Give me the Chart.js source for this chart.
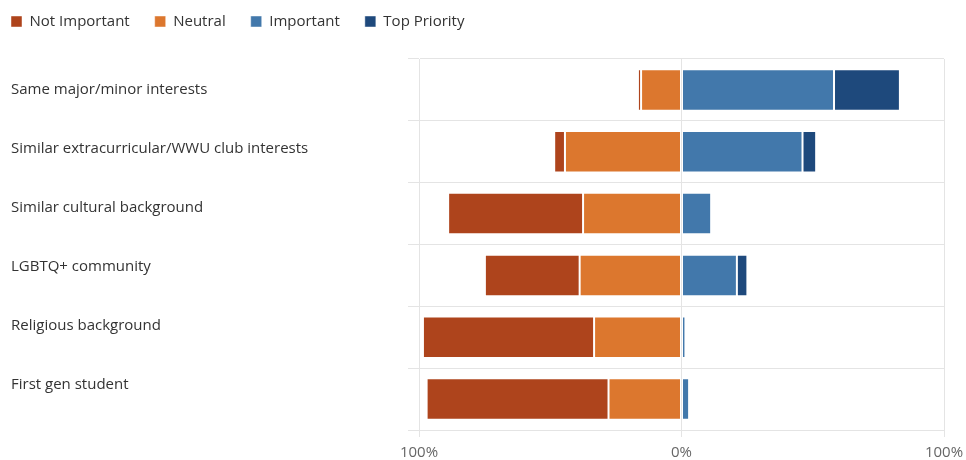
<!DOCTYPE html>
<html>
<head>
<meta charset="utf-8">
<script src="https://cdn.jsdelivr.net/npm/chart.js@4"></script>
<style>
  html, body { margin: 0; padding: 0; background: #fff; }
  #wrap { width: 966px; height: 460px; }
</style>
</head>
<body>
<div id="wrap"><canvas id="c" width="966" height="460"></canvas></div>
<script>
const categories = [
  "Same major/minor interests",
  "Similar extracurricular/WWU club interests",
  "Similar cultural background",
  "LGBTQ+ community",
  "Religious background",
  "First gen student"
];
const seriesNames = ["Not Important", "Neutral", "Important", "Top Priority"];
const notImportant = [1.2, 4.1, 51.4, 36.1, 65.2, 69.3];
const neutral      = [15.4, 44.4, 37.5, 38.8, 33.3, 27.8];
const important    = [58.1, 46.1, 11.3, 21.1, 1.5, 2.9];
const topPriority  = [25.1, 5.2, 0, 4.0, 0, 0];
const xTicks = [-100, 0, 100];

const colors = ["#AE441C", "#DC772E", "#4278AB", "#1E497C"];
const FONT = "'Open Sans', 'Noto Sans', sans-serif";
const LABEL_SPACING = 0.953; // category labels sit on a slightly tighter rhythm than the rows

const legendShift = {
  id: 'legendShift',
  afterLayout(chart) {
    if (chart.legend) {
      chart.legend.left -= 25;
      chart.legend.top -= 20;
    }
  }
};

function patchYLabels(s) {
  if (s._labelPatched) return;
  s._labelPatched = true;
  const orig = s._computeLabelItems.bind(s);
  s._computeLabelItems = (ca) => {
    const items = orig(ca);
    const n = s.ticks.length;
    const h = (s.bottom - s.top) / n;
    items.forEach((it, i) => {
      it.options.translation[1] = s.top + 1.5 + (i + 0.5) * h * LABEL_SPACING;
    });
    return items;
  };
}

new Chart(document.getElementById('c'), {
  type: 'bar',
  data: {
    labels: categories,
    datasets: [
      { label: seriesNames[0], data: notImportant.map(v => -v), backgroundColor: colors[0], order: 1 },
      { label: seriesNames[1], data: neutral.map(v => -v), backgroundColor: colors[1], order: 0 },
      { label: seriesNames[2], data: important, backgroundColor: colors[2], order: 2 },
      { label: seriesNames[3], data: topPriority, backgroundColor: colors[3], order: 3 }
    ].map(d => Object.assign(d, {
      borderColor: 'rgba(255,255,255,0.45)',
      borderWidth: 1,
      borderSkipped: false,
      categoryPercentage: 1,
      barPercentage: 0.67
    }))
  },
  options: {
    indexAxis: 'y',
    responsive: false,
    animation: false,
    devicePixelRatio: 1,
    layout: { padding: { left: 11, right: 22, top: 9, bottom: 0 } },
    plugins: {
      legend: {
        position: 'top',
        align: 'start',
        labels: {
          boxWidth: 11,
          boxHeight: 11,
          padding: 25,
          color: '#333',
          font: { family: FONT, size: 15 },
          sort: (a, b) => a.datasetIndex - b.datasetIndex
        }
      },
      tooltip: { enabled: false }
    },
    scales: {
      x: {
        stacked: true,
        min: -100,
        max: 100,
        afterBuildTicks: (s) => { s.ticks = xTicks.map(v => ({ value: v })); },
        afterFit: (s) => { s.height = 30; s.paddingRight = 0; s.paddingLeft = 0; },
        grid: { color: '#e4e4e4', tickLength: 7 },
        border: { color: '#e4e4e4' },
        ticks: {
          padding: 7,
          color: '#666',
          font: { family: FONT, size: 15 },
          callback: (v) => Math.abs(v) + '%'
        }
      },
      y: {
        stacked: true,
        afterFit: (s) => { s.width = 408; },
        afterUpdate: patchYLabels,
        grid: { color: '#e4e4e4', tickLength: 11, offset: true },
        border: { color: '#e4e4e4' },
        ticks: {
          crossAlign: 'far',
          color: '#333',
          font: { family: FONT, size: 15 }
        }
      }
    }
  },
  plugins: [legendShift]
});
</script>
</body>
</html>
